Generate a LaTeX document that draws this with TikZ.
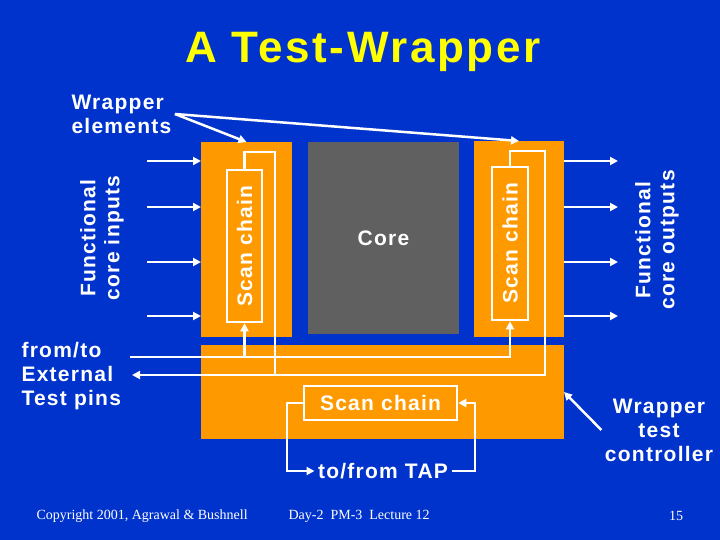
\documentclass[tikz,border=0pt]{standalone}
\usepackage{fontspec}
\usepackage{graphicx}
\setmainfont{Liberation Serif}
\newfontfamily\labfont[LetterSpace=6]{Liberation Sans}
\usetikzlibrary{arrows.meta}
\definecolor{slideblue}{RGB}{0,51,204}
\definecolor{wraporange}{RGB}{255,153,0}
\definecolor{coregray}{RGB}{96,96,96}
\definecolor{titleyellow}{RGB}{255,255,0}
\tikzset{
  wire/.style={draw=white,line width=2.5pt},
  arr/.style={wire,-{Triangle[length=8pt,width=8pt]}},
  lbl/.style={text=white,font=\labfont\bfseries\fontsize{21}{24}\selectfont},
  wrapbox/.style={fill=wraporange,inner sep=0pt,outer sep=0pt},
  chainbox/.style={wire,lbl,inner sep=0pt},
  foot/.style={text=white,font=\fontsize{14}{16}\selectfont},
}

\begin{document}
\begin{tikzpicture}[x=1pt,y=-1pt]
\fill[slideblue] (0,0) rectangle (720,540);
\node[text=titleyellow,font=\labfont\bfseries\fontsize{44}{48}\selectfont,anchor=base] (title) at (363,63) {A Test-Wrapper};

% wrapper, core and controller
\node[wrapbox,minimum width=91pt,minimum height=195pt] (lwrap) at (246.5,239.5) {};
\node[fill=coregray,inner sep=0pt,outer sep=0pt,minimum width=151pt,minimum height=192pt,lbl] (core) at (383.5,238) {Core};
\node[wrapbox,minimum width=90pt,minimum height=196pt] (rwrap) at (519,239) {};
\node[wrapbox,minimum width=363pt,minimum height=94pt] (ctrl) at (382.5,392) {};

\node[chainbox,minimum width=35pt,minimum height=152pt] (lscan) at (244.5,246) {\rotatebox{90}{Scan chain}};
\node[chainbox,minimum width=36pt,minimum height=153pt] (rscan) at (510,243.5) {\rotatebox{90}{Scan chain}};
\node[chainbox,minimum width=153pt,minimum height=34pt] (bscan) at (380.5,403) {Scan chain};

% labels
\node[lbl,align=left,anchor=west] (welem) at (68,114) {Wrapper\\elements};
\node[lbl,rotate=90,align=center] (fin) at (102,238) {Functional\\core inputs};
\node[lbl,rotate=90,align=center] (fout) at (657,240) {Functional\\core outputs};
\node[lbl,align=left,anchor=west] (ext) at (18,376) {from/to\\External\\Test pins};
\node[lbl,align=center] (wtc) at (659,430) {Wrapper\\test\\controller};
\node[lbl] (tap) at (383,471) {to/from TAP};

\node[foot,anchor=west] (copy) at (33,516) {Copyright 2001, Agrawal \& Bushnell};
\node[foot,anchor=west] (day) at (285,516) {Day-2\enspace PM-3\enspace Lecture 12};
\node[foot] (page) at (676,516) {15};

% functional inputs and outputs
\foreach \y in {161,207,262,316}{
  \coordinate (in\y) at (147,\y);
  \coordinate (out\y) at (618,\y);
  \draw[arr] (in\y) -- (in\y -| lwrap.west);
  \draw[arr] (rwrap.east |- out\y) -- (out\y);
}

% wrapper scan chains
\coordinate (ltop) at (275,152);
\coordinate (rtop) at (545,151);
\coordinate (extin) at (130,357);
\coordinate (extout) at (132,375);
\draw[wire] (lscan.north) |- (ltop) -- (ltop |- extout);
\draw[arr] (rscan.north) |- (rtop) -- (rtop |- extout) -- (extout);
\draw[arr] (extin) -| (rscan.south);
\draw[arr] (extin -| lscan.south) -- (lscan.south);

% controller scan chain
\coordinate (tapl) at (287,403);
\coordinate (tapr) at (475,403);
\draw[arr] (bscan.west) -- (tapl) |- (tap.west);
\draw[arr] (tap.east) -| (tapr) -- (bscan.east);

% callouts
\draw[arr] (welem.east) -- (lwrap.north);
\draw[arr] (welem.east) -- (rwrap.north);
\draw[arr] (wtc.west) -- (ctrl.east);
\end{tikzpicture}
\end{document}
